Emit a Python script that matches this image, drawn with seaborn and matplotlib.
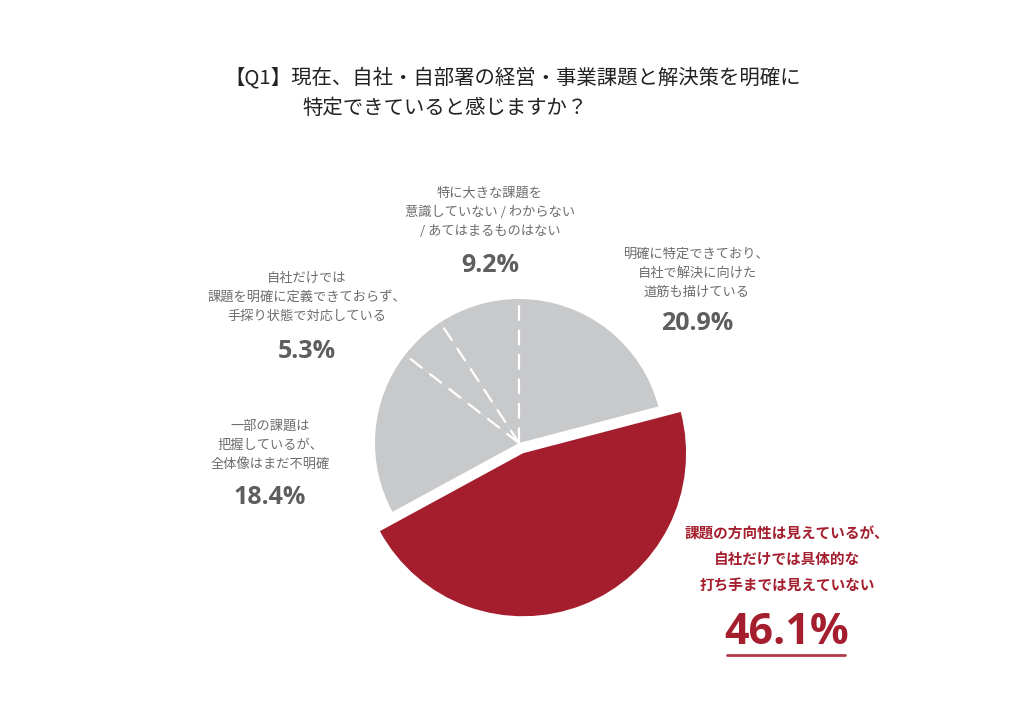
import numpy as np
import matplotlib.pyplot as plt
import seaborn as sns

# ---- data ----
categories = [
    "明確に特定できており、\n自社で解決に向けた\n道筋も描けている",
    "課題の方向性は見えているが、\n自社だけでは具体的な\n打ち手までは見えていない",
    "一部の課題は\n把握しているが、\n全体像はまだ不明確",
    "自社だけでは\n課題を明確に定義できておらず、\n手探り状態で対応している",
    "特に大きな課題を\n意識していない / わからない\n/ あてはまるものはない",
]
shares = [20.9, 46.1, 18.4, 5.3, 9.2]
highlight = 1  # index of the emphasised answer
title_1 = "【Q1】現在、自社・自部署の経営・事業課題と解決策を明確に"
title_2 = "特定できていると感じますか？"

# ---- style ----
sns.set_theme(style="white")
plt.rcParams['font.family'] = ['Noto Sans CJK JP', 'DejaVu Sans']

GRAY = "#c8c9cb"
RED = "#a41e2e"
LABEL_GRAY = "#6d6d6d"
PCT_GRAY = "#5e5e5e"

W, H = 1024, 706
fig = plt.figure(figsize=(W / 100, H / 100), dpi=100)
ax = fig.add_axes([0, 0, 1, 1])

cx, cy, R = 519, H - 443, 144
colors = [RED if i == highlight else GRAY for i in range(len(shares))]
explode = [11 if i == highlight else 0 for i in range(len(shares))]

wedges, _ = ax.pie(shares, colors=colors, startangle=90, counterclock=False,
                   center=(cx, cy), radius=R, explode=explode,
                   wedgeprops=dict(linewidth=0))
wedges[highlight].set_radius(163)

# white dashed separators between the gray slices
bounds = 90 - 360 * np.cumsum([0] + shares) / sum(shares)
for i in range(len(shares)):
    if i in (highlight, highlight + 1):
        continue
    th = np.deg2rad(bounds[i])
    ax.plot([cx, cx + R * np.cos(th)], [cy, cy + R * np.sin(th)],
            color="white", lw=1.6, dashes=(7, 4))

ax.set_xlim(0, W)
ax.set_ylim(0, H)
ax.set_aspect("auto")
ax.axis("off")

# ---- title ----
ax.text(224, H - 78, title_1, ha="left", va="center", fontsize=14.7,
        color="#222222")
ax.text(302, H - 108, title_2, ha="left", va="center", fontsize=14.7,
        color="#222222")

# ---- labels (x, y of first line, pct y) in pixels ----
label_pos = [(697, 253, 324), (787, 535, 632), (270, 425, 497),
             (307, 277, 352), (490, 192, 265)]
for i, (x, y0, yp) in enumerate(label_pos):
    pct = f"{shares[i]:.1f}%"
    if i == highlight:
        ax.text(x, H - y0 - 24, categories[i], ha="center", va="center",
                fontsize=10.5, fontweight="bold", color=RED, linespacing=1.75)
        ax.text(x, H - yp, pct, ha="center", va="center", fontsize=31,
                fontweight="bold", color=RED,
                family=['Open Sans', 'DejaVu Sans'])
        ax.plot([x - 60, x + 58], [H - 655, H - 655], color="#b23a48", lw=2)
    else:
        ax.text(x, H - y0 - 20, categories[i], ha="center", va="center",
                fontsize=9.5, color=LABEL_GRAY, linespacing=1.6)
        ax.text(x, H - yp, pct, ha="center", va="center", fontsize=18,
                fontweight="bold", color=PCT_GRAY,
                family=['Open Sans', 'DejaVu Sans'])

fig.savefig("out.png", dpi=100, facecolor="white")
